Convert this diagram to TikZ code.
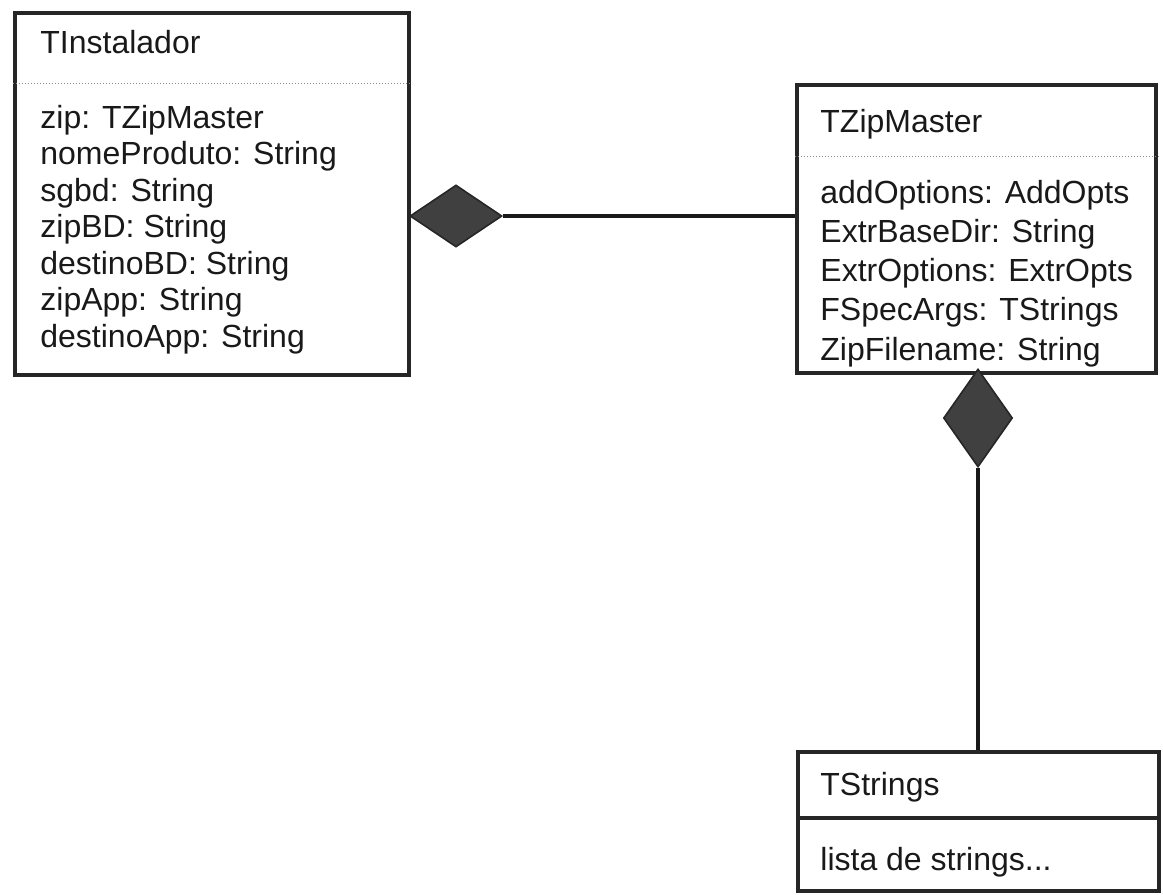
\documentclass[tikz,border=0pt]{standalone}
\usepackage{fontspec}
\setmainfont{Liberation Sans}
\usetikzlibrary{shapes.geometric}

\begin{document}
\begin{tikzpicture}[x=0.5pt,y=-0.5pt,
    classbox/.style={draw=black!85,line width=2.2pt,inner sep=0pt},
    txt/.style={anchor=base west,inner sep=0pt,font=\fontsize{16pt}{18pt}\selectfont,text=black!90},
    sepline/.style={draw=black!45,line width=0.5pt,densely dotted},
    assoc/.style={draw=black!90,line width=2.4pt},
    comp/.style={diamond,draw=black!85,fill=black!75,line width=0.8pt,inner sep=0pt}]
      \useasboundingbox (0,0) rectangle (1163,895);
      % the three classes
      \node[classbox,minimum width=197pt,minimum height=181pt] (ti) at (212,194) {};
      \node[classbox,minimum width=179.5pt,minimum height=144pt] (zm) at (976.5,229) {};
      \node[classbox,minimum width=180.5pt,minimum height=69.5pt] (ts) at (978.5,821.5) {};
      \draw[sepline] (ti.west |- 0,83) -- (ti.east |- 0,83);
      \draw[sepline] (zm.west |- 0,156) -- (zm.east |- 0,156);
      \draw[classbox] (ts.west |- 0,818) -- (ts.east |- 0,818);
      % names and attributes
      \node[txt] (ti-name) at (40,53) {TInstalador};
      \foreach \t [count=\i] in {zip: TZipMaster, nomeProduto: String, sgbd: String,
                     zipBD: String, destinoBD: String, zipApp: String, destinoApp: String}
        \node[txt] (ti-\i) at (40,{128+36.5*(\i-1)}) {\t};
      \node[txt] (zm-name) at (820,132) {TZipMaster};
      \foreach \t [count=\i] in {addOptions: AddOpts, ExtrBaseDir: String,
                     ExtrOptions: ExtrOpts, FSpecArgs: TStrings, ZipFilename: String}
        \node[txt] (zm-\i) at (820,{203+39.25*(\i-1)}) {\t};
      \node[txt] (ts-name) at (820,795) {TStrings};
      \node[txt] (ts-1) at (820,870) {lista de strings...};
      % composition links
      \node[comp,minimum width=46pt,minimum height=31pt] (d1) at (456,216) {};
      \node[comp,minimum width=34.5pt,minimum height=49pt] (d2) at (978,418) {};
      \draw[assoc] (d1.east) -- (zm.west |- d1.east);
      \draw[assoc] (d2.south) -- (ts.north -| d2.south);
\end{tikzpicture}
\end{document}
